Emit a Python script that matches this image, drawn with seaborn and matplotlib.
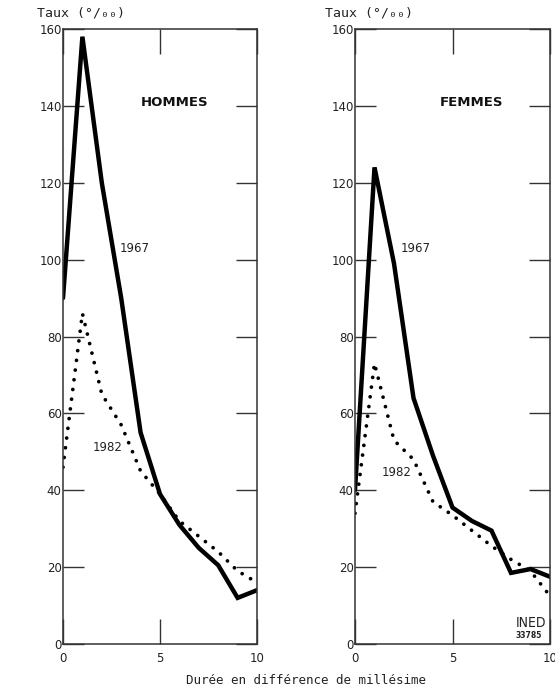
import matplotlib
matplotlib.use("Agg")
import matplotlib.pyplot as plt
import seaborn as sns
import pandas as pd

# ---- data ----
durees = [0, 1, 2, 3, 4, 5, 6, 7, 8, 9, 10]
hommes_1967 = [90, 158, 120, 90, 55, 39, 31, 25, 20.5, 12, 14]
hommes_1982 = [46, 86, 65, 57, 45, 39, 32, 28, 24, 19, 16]
femmes_1967 = [40, 124, 99, 64, 49, 35.5, 32, 29.5, 18.5, 19.5, 17.5]
femmes_1982 = [34, 73, 53, 48, 37, 33.5, 29.5, 25.5, 22, 19, 12.5]

panel_titles = ["HOMMES", "FEMMES"]
y_ticks = [0, 20, 40, 60, 80, 100, 120, 140, 160]
x_ticks = [0, 5, 10]
y_label = "Taux (°/₀₀)"
x_label = "Durée en différence de millésime"

sns.set_style("white")
plt.rcParams['font.family'] = ['DejaVu Sans']

W, H = 555, 687
fig = plt.figure(figsize=(W / 100, H / 100), dpi=100)
ax_h = fig.add_axes([63 / W, 43 / H, 194 / W, 615 / H])
ax_f = fig.add_axes([355 / W, 43 / H, 195 / W, 615 / H])

panels = [
    (ax_h, hommes_1967, hommes_1982, panel_titles[0], (5.75, 141), (3.7, 103), (2.3, 51), 37),
    (ax_f, femmes_1967, femmes_1982, panel_titles[1], (5.95, 141), (3.1, 103), (2.15, 44.5), 325),
]

for ax, v67, v82, title, tpos, p67, p82, ylab_x in panels:
    df = pd.DataFrame({"duree": durees, "v67": v67, "v82": v82})
    sns.lineplot(data=df, x="duree", y="v67", ax=ax, color="black",
                 linewidth=3.2, solid_joinstyle="miter")
    sns.lineplot(data=df, x="duree", y="v82", ax=ax, color="black",
                 linewidth=2.7, linestyle=(0, (0.01, 2.6)),
                 dash_capstyle="round")
    ax.set_xlim(0, 10)
    ax.set_ylim(0, 160)
    ax.set_xticks(x_ticks)
    ax.set_yticks(y_ticks)
    ax.set_xlabel("")
    ax.set_ylabel("")
    ax.tick_params(axis="y", direction="in", length=15, width=1.0,
                   left=True, right=True, labelsize=8.5, pad=1,
                   color="#333333", labelcolor="#222222")
    ax.tick_params(axis="x", direction="in", length=18, width=1.0,
                   bottom=True, top=True, labelsize=8.5, pad=6,
                   color="#333333", labelcolor="#222222")
    for sp in ax.spines.values():
        sp.set_visible(True)
        sp.set_color("#333333")
        sp.set_linewidth(1.1)
    ax.text(tpos[0], tpos[1], title, ha="center", va="center",
            fontsize=9.5, fontweight="bold", color="#111111")
    ax.text(p67[0], p67[1], "1967", ha="center", va="center",
            fontsize=8.5, color="#222222")
    ax.text(p82[0], p82[1], "1982", ha="center", va="center",
            fontsize=8.5, color="#222222")
    fig.text(ylab_x / W, 1 - 13 / H, y_label, ha="left", va="center",
             fontsize=9.5, family="DejaVu Sans Mono", color="#222222")

fig.text(306 / W, 1 - 680 / H, x_label, ha="center", va="center",
         fontsize=9, family="DejaVu Sans Mono", color="#222222")

ax_f.text(9.03, 5.4, "INED", ha="center", va="center", fontsize=10,
          color="#222222", fontstretch="condensed")
ax_f.text(8.9, 2.2, "33785", ha="center", va="center", fontsize=5.5,
          fontweight="bold", color="#222222")

fig.savefig("out.png", dpi=100, facecolor="white")
